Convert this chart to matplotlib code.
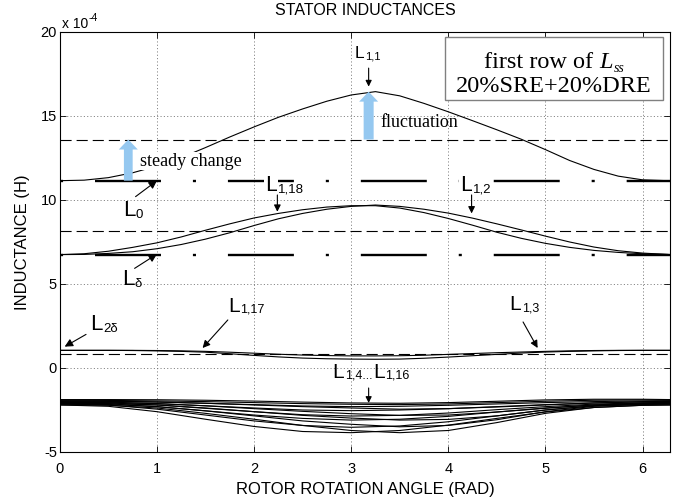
import numpy as np
import matplotlib.pyplot as plt
from matplotlib.patches import Rectangle

plt.rcParams['font.family'] = ['Liberation Sans', 'DejaVu Sans']
plt.rcParams['lines.scale_dashes'] = False
plt.rcParams['axes.unicode_minus'] = False

# rotor angle (rad) and inductances in units of 1e-4 H
theta = [0.0, 0.25, 0.5, 0.75, 1.0, 1.25, 1.5, 1.75, 2.0, 2.25, 2.5, 2.75, 3.0,
         3.25, 3.5, 3.75, 4.0, 4.25, 4.5, 4.75, 5.0, 5.25, 5.5, 5.75, 6.0, 6.25, 6.2832]

L_1_1 = [11.15, 11.18, 11.33, 11.62, 12.02, 12.52, 13.12, 13.75, 14.35, 14.92, 15.42, 15.88, 16.25,
         16.45, 16.20, 15.75, 15.25, 14.72, 14.18, 13.62, 13.00, 12.35, 11.82, 11.42, 11.20, 11.15, 11.15]
L_1_18 = [6.75, 6.80, 6.95, 7.18, 7.45, 7.80, 8.20, 8.58, 8.93, 9.20, 9.42, 9.58, 9.66,
          9.66, 9.52, 9.25, 8.90, 8.50, 8.08, 7.72, 7.42, 7.18, 7.00, 6.88, 6.80, 6.76, 6.75]
L_1_2 = [6.75, 6.76, 6.82, 6.92, 7.10, 7.35, 7.67, 8.05, 8.48, 8.88, 9.20, 9.45, 9.62,
         9.70, 9.62, 9.45, 9.22, 8.92, 8.58, 8.22, 7.85, 7.50, 7.20, 6.98, 6.84, 6.76, 6.75]
L_1_17 = [1.05, 1.05, 1.05, 1.04, 1.02, 0.99, 0.94, 0.85, 0.75, 0.66, 0.59, 0.55, 0.53,
          0.52, 0.53, 0.58, 0.65, 0.73, 0.81, 0.89, 0.95, 0.99, 1.02, 1.04, 1.05, 1.05, 1.05]
L_1_3 = [1.05, 1.05, 1.05, 1.05, 1.04, 1.02, 0.99, 0.94, 0.88, 0.82, 0.77, 0.74, 0.72,
         0.72, 0.73, 0.76, 0.81, 0.86, 0.91, 0.95, 0.99, 1.02, 1.04, 1.05, 1.05, 1.05, 1.05]

# coarser angle grid for the bundle L1,4 ... L1,16
theta_c = [0.0, 0.5, 1.0, 1.5, 2.0, 2.5, 3.0, 3.5, 4.0, 4.5, 5.0, 5.5, 6.0, 6.2832]
L_1_4 = [-2.20, -2.28, -2.60, -3.05, -3.48, -3.78, -3.85, -3.72, -3.40, -3.00, -2.62, -2.35, -2.22, -2.20]
L_1_5 = [-2.15, -2.20, -2.45, -2.80, -3.15, -3.42, -3.53, -3.45, -3.20, -2.85, -2.50, -2.25, -2.16, -2.15]
L_1_6 = [-2.10, -2.13, -2.30, -2.55, -2.80, -3.00, -3.10, -3.05, -2.88, -2.62, -2.38, -2.20, -2.12, -2.10]
L_1_7 = [-2.05, -2.08, -2.20, -2.40, -2.60, -2.78, -2.86, -2.82, -2.68, -2.48, -2.30, -2.15, -2.07, -2.05]
L_1_8 = [-2.00, -2.03, -2.12, -2.25, -2.38, -2.50, -2.54, -2.50, -2.42, -2.30, -2.18, -2.08, -2.02, -2.00]
L_1_9 = [-1.95, -1.97, -2.02, -2.10, -2.18, -2.26, -2.30, -2.28, -2.22, -2.14, -2.06, -2.00, -1.96, -1.95]
L_1_10 = [-1.88, -1.88, -1.89, -1.92, -1.97, -2.03, -2.08, -2.10, -2.06, -1.98, -1.90, -1.86, -1.86, -1.88]
L_1_11 = [-1.92, -1.93, -1.96, -2.00, -2.06, -2.12, -2.16, -2.18, -2.14, -2.06, -1.98, -1.92, -1.90, -1.92]
L_1_12 = [-1.98, -1.99, -2.03, -2.10, -2.20, -2.30, -2.38, -2.45, -2.42, -2.32, -2.20, -2.08, -2.00, -1.98]
L_1_13 = [-2.05, -2.06, -2.12, -2.25, -2.42, -2.58, -2.72, -2.82, -2.80, -2.62, -2.40, -2.20, -2.08, -2.05]
L_1_14 = [-2.10, -2.12, -2.20, -2.38, -2.60, -2.82, -2.98, -3.10, -3.06, -2.85, -2.50, -2.25, -2.12, -2.10]
L_1_15 = [-2.15, -2.17, -2.30, -2.55, -2.85, -3.15, -3.35, -3.50, -3.42, -3.08, -2.60, -2.28, -2.17, -2.15]
L_1_16 = [-2.20, -2.22, -2.38, -2.70, -3.05, -3.42, -3.72, -3.85, -3.72, -3.25, -2.70, -2.35, -2.22, -2.20]

# constant levels: L0, L_delta and the mean (dashed) lines
L_0 = 11.15
L_delta = 6.75
mean_levels = [13.6, 8.15, 0.83]

fig = plt.figure(figsize=(6.86, 5.03), dpi=100)
ax = fig.add_axes([0.0872, 0.1014, 0.8895, 0.835])

two_pi = theta[-1]
for m in mean_levels:
    ax.plot([0, two_pi], [m, m], color='k', lw=0.8, dashes=(8, 3.6))

dashdot = (70.5, (47.5, 23, 2.2, 23))
for lev in [L_0, L_delta]:
    ax.plot([0, two_pi], [lev, lev], color='k', lw=1.7, linestyle=dashdot,
            solid_capstyle='butt', dash_capstyle='butt')

for curve in [L_1_1, L_1_18, L_1_2, L_1_17, L_1_3]:
    ax.plot(theta, curve, color='k', lw=0.8)

bundle = [L_1_4, L_1_5, L_1_6, L_1_7, L_1_8, L_1_9, L_1_10,
          L_1_11, L_1_12, L_1_13, L_1_14, L_1_15, L_1_16]
for curve in bundle:
    ax.plot(theta_c, curve, color='k', lw=0.8)

ax.set_xlim(0, two_pi)
ax.set_ylim(-5, 20)
ax.set_xticks([0, 1, 2, 3, 4, 5, 6])
ax.set_yticks([-5, 0, 5, 10, 15, 20])
ax.tick_params(direction='in', top=True, right=True, length=4, width=0.6, labelsize=10.5)
ax.tick_params(axis='x', pad=7)
ax.tick_params(axis='y', pad=2)
ax.grid(True, linestyle=(0, (0.8, 1.6)), color='#707070', lw=0.6)
ax.set_axisbelow(True)
for s in ax.spines.values():
    s.set_linewidth(0.8)

fig.text(365 / 686, 1 - 15 / 503, 'STATOR INDUCTANCES', ha='center', va='baseline', fontsize=11.5)
t_exp = fig.text(62 / 686, 1 - 28 / 503, 'x 10', ha='left', va='baseline', fontsize=10)
ax.annotate('-4', xy=(1, 1), xycoords=t_exp, xytext=(0.5, -4), textcoords='offset points',
            ha='left', va='bottom', fontsize=7.5, annotation_clip=False)
fig.text(23 / 686, 0.519, 'INDUCTANCE (H)', rotation=90, ha='center', va='center', fontsize=12)
fig.text(365 / 686, 1 - 494 / 503, 'ROTOR ROTATION ANGLE (RAD)', ha='center', va='baseline', fontsize=12)

white = dict(fc='white', ec='none', pad=0.5)


def sub_label(x, y, parts, size, subsize, **kw):
    # "L" followed by subscripts, chained one after another
    t = ax.text(x, y, parts[0][0], fontsize=size, ha='left', va='baseline', zorder=4, **kw)
    prev = t
    for txt, is_sub in parts[1:]:
        prev = ax.annotate(txt, xy=(1, 0), xycoords=prev, xytext=(0.4, 0),
                           textcoords='offset points', fontsize=subsize if is_sub else size,
                           ha='left', va='bottom', zorder=4, **kw)
    return t


def arrow(tail, tip, ms=11):
    ax.annotate('', xy=tip, xytext=tail, zorder=4,
                arrowprops=dict(arrowstyle='-|>', color='k', lw=0.8,
                                mutation_scale=ms, shrinkA=0, shrinkB=0))


def blue_arrow(x, y0, y1, tw):
    ax.annotate('', xy=(x, y1), xytext=(x, y0), zorder=3,
                arrowprops=dict(arrowstyle=f'simple,head_width=1.37,head_length=0.72,tail_width={tw}',
                                mutation_scale=10, fc='#95C8F0', ec='none',
                                shrinkA=0, shrinkB=0))


sub_label(3.04, 18.45, [('L', False), ('1,1', True)], 12.5, 8)
arrow((3.18, 17.85), (3.18, 16.75), ms=9)
blue_arrow(3.18, 13.6, 16.45, 0.72)
ax.text(3.30, 14.35, 'fluctuation', family='Liberation Serif', fontsize=13,
        ha='left', va='baseline', zorder=4)

blue_arrow(0.705, 11.15, 13.6, 0.63)
ax.text(0.825, 12.04, 'steady change', family='Liberation Serif', fontsize=13,
        ha='left', va='baseline', zorder=4, bbox=white)

sub_label(0.65, 9.05, [('L', False), ('0', True)], 16, 9.5)
arrow((0.78, 10.2), (1.0, 11.15), ms=12)

sub_label(2.11, 10.55, [('L', False), ('1,18', True)], 16, 9.5, bbox=white)
arrow((2.24, 10.3), (2.24, 9.3), ms=10)

sub_label(4.12, 10.55, [('L', False), ('1,2', True)], 16, 9.5, bbox=white)
arrow((4.24, 10.3), (4.24, 9.2), ms=10)

sub_label(0.64, 4.94, [('L', False), ('δ', True)], 16, 9.5)
arrow((0.77, 5.93), (1.0, 6.78), ms=12)

sub_label(0.31, 2.26, [('L', False), ('2δ', True)], 16, 9.5)
arrow((0.27, 2.0), (0.05, 1.27), ms=12)

sub_label(1.73, 3.35, [('L', False), ('1,17', True)], 15, 9)
arrow((1.73, 2.86), (1.47, 1.19), ms=11)

sub_label(4.63, 3.45, [('L', False), ('1,3', True)], 15, 9)
arrow((4.77, 2.74), (4.92, 1.19), ms=11)

sub_label(2.81, -0.58, [('L', False), ('1,4...', True), ('L', False), ('1,16', True)], 15, 9)
arrow((3.18, -1.19), (3.18, -2.08), ms=9)

ax.add_patch(Rectangle((0.631, 0.838), 0.3575, 0.150, transform=ax.transAxes,
                       fc='white', ec='#808080', lw=1, zorder=5))
serif = dict(family='Liberation Serif', zorder=6)
t1 = ax.text(0.695, 0.914, 'first row of', transform=ax.transAxes, fontsize=17.5,
             ha='left', va='baseline', **serif)
tL = ax.annotate('L', xy=(1, 0), xycoords=t1, xytext=(4.5, 0), textcoords='offset points',
                 fontsize=17.5, style='italic', ha='left', va='bottom', **serif)
ax.annotate('ss', xy=(1, 0), xycoords=tL, xytext=(0.5, -1), textcoords='offset points',
            fontsize=10, style='italic', ha='left', va='bottom', **serif)
ax.text(0.8096, 0.856, '20%SRE+20%DRE', transform=ax.transAxes, fontsize=17.5,
        ha='center', va='baseline', **serif)

fig.savefig('out.png', dpi=100)
